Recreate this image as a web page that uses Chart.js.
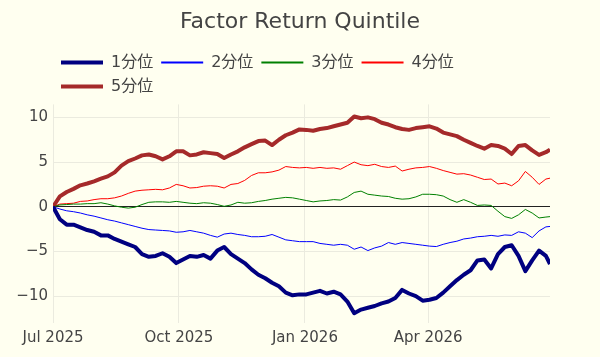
<html>
<head>
<script src="https://cdn.jsdelivr.net/npm/chart.js@4.4.0/dist/chart.umd.min.js"></script>
<style>
  body { margin: 0; background: #fffff0; }
</style>
</head>
<body>
<canvas id="canvas" width="600" height="357"></canvas>
<script>
// day offsets from 2025-07-01
var days = [0,5,10,15,20,25,30,35,40,45,50,55,60,65,70,75,80,85,90,
  95,100,105,110,115,120,125,130,135,140,145,150,155,160,165,170,175,180,
  185,190,195,200,205,210,215,220,225,230,235,240,245,250,255,260,265,270,
  275,280,285,290,295,300,305,310,315,320,325,330,335,340,345,350,355,360,363];

var q1 = [0,-1.4,-2.0,-2.0,-2.3,-2.6,-2.8,-3.2,-3.2,-3.6,-3.9,-4.2,-4.5,-5.3,-5.6,-5.5,-5.2,-5.6,-6.3,
  -5.9,-5.5,-5.6,-5.4,-5.8,-4.9,-4.5,-5.3,-5.8,-6.3,-7.0,-7.6,-8.0,-8.5,-8.9,-9.6,-9.9,-9.8,
  -9.8,-9.6,-9.4,-9.7,-9.5,-9.8,-10.6,-11.9,-11.5,-11.3,-11.1,-10.8,-10.6,-10.2,-9.3,-9.7,-10.0,-10.5,
  -10.4,-10.2,-9.6,-8.9,-8.2,-7.6,-7.1,-6.0,-5.9,-6.9,-5.3,-4.5,-4.3,-5.5,-7.2,-6.0,-4.9,-5.5,-6.4];
var q2 = [0,-0.25,-0.45,-0.55,-0.7,-0.9,-1.05,-1.25,-1.45,-1.6,-1.8,-2.0,-2.2,-2.4,-2.55,-2.6,-2.65,-2.7,-2.85,
  -2.8,-2.65,-2.8,-2.95,-3.2,-3.4,-3.05,-2.95,-3.1,-3.2,-3.35,-3.35,-3.3,-3.1,-3.4,-3.7,-3.8,-3.9,
  -3.9,-3.9,-4.1,-4.2,-4.3,-4.2,-4.3,-4.75,-4.5,-4.9,-4.6,-4.4,-4.0,-4.2,-4.0,-4.1,-4.2,-4.3,
  -4.4,-4.45,-4.2,-4.0,-3.85,-3.6,-3.5,-3.35,-3.3,-3.2,-3.3,-3.15,-3.2,-2.8,-2.95,-3.45,-2.7,-2.25,-2.2];
var q3 = [0,0.2,0.25,0.3,0.3,0.35,0.35,0.45,0.3,0.1,-0.05,-0.15,-0.05,0.25,0.5,0.55,0.55,0.5,0.6,
  0.5,0.4,0.35,0.45,0.4,0.25,0.05,0.2,0.5,0.4,0.45,0.6,0.7,0.85,0.95,1.05,1.0,0.85,
  0.7,0.55,0.65,0.7,0.8,0.75,1.1,1.6,1.75,1.4,1.3,1.2,1.15,0.95,0.85,0.9,1.1,1.4,
  1.4,1.35,1.2,0.8,0.5,0.8,0.5,0.15,0.2,0.15,-0.5,-1.1,-1.3,-0.9,-0.3,-0.7,-1.25,-1.15,-1.1];
var q4 = [0,0.3,0.35,0.4,0.6,0.65,0.8,0.9,0.9,1.0,1.2,1.5,1.75,1.85,1.9,1.95,1.9,2.1,2.5,
  2.35,2.1,2.15,2.3,2.35,2.3,2.1,2.5,2.6,2.95,3.5,3.8,3.8,3.9,4.1,4.5,4.4,4.35,
  4.4,4.3,4.4,4.3,4.35,4.2,4.6,5.0,4.7,4.6,4.75,4.5,4.4,4.55,4.0,4.2,4.35,4.4,
  4.5,4.3,4.05,3.85,3.65,3.7,3.55,3.3,3.05,3.1,2.55,2.65,2.35,2.9,3.95,3.3,2.5,3.1,3.2];
var q5 = [0,1.16,1.65,2.0,2.4,2.6,2.85,3.15,3.4,3.85,4.6,5.1,5.4,5.75,5.85,5.65,5.3,5.65,6.2,
  6.2,5.75,5.85,6.1,6.0,5.9,5.45,5.85,6.2,6.65,7.0,7.35,7.4,6.9,7.5,8.0,8.3,8.65,
  8.6,8.5,8.7,8.8,9.0,9.2,9.4,10.1,9.9,10.0,9.8,9.4,9.2,8.9,8.7,8.6,8.8,8.9,
  9.0,8.75,8.3,8.1,7.9,7.5,7.15,6.8,6.5,6.9,6.8,6.5,5.9,6.8,6.9,6.3,5.8,6.1,6.4];

var seriesNames = ['1分位', '2分位', '3分位', '4分位', '5分位'];
var xTickDays = [0, 92, 184, 274];
var xTickLabels = ['Jul 2025', 'Oct 2025', 'Jan 2026', 'Apr 2026'];
var yTicks = [-10, -5, 0, 5, 10];

var gridColor = '#ebebdf';

function pts(vals) {
  return vals.map(function(v, i) { return {x: days[i], y: v}; });
}

function line(name, vals, color, width) {
  return {label: name, data: pts(vals), borderColor: color, backgroundColor: color,
    borderWidth: width, pointRadius: 0, tension: 0, borderJoinStyle: 'round'};
}

Chart.defaults.font.family = "'DejaVu Sans', 'Noto Sans CJK JP', sans-serif";
Chart.defaults.color = '#444';

// ivory paper
var bgPlugin = {
  id: 'bg',
  beforeDraw: function(chart) {
    var c = chart.ctx;
    c.save();
    c.fillStyle = '#fffff0';
    c.fillRect(0, 0, chart.width, chart.height);
    c.restore();
  }
};

var ctx = document.getElementById('canvas').getContext('2d');
var chart = new Chart(ctx, {
  type: 'line',
  data: {
    datasets: [
      line(seriesNames[0], q1, '#000080', 4),
      line(seriesNames[1], q2, '#0000ff', 1),
      line(seriesNames[2], q3, '#008000', 1),
      line(seriesNames[3], q4, '#ff0000', 1),
      line(seriesNames[4], q5, '#a52a2a', 4)
    ]
  },
  options: {
    responsive: false,
    animation: false,
    devicePixelRatio: 1,
    layout: {padding: 0},
    plugins: {
      title: {
        display: true,
        text: 'Factor Return Quintile',
        font: {size: 22, weight: 'normal'},
        color: '#444',
        padding: {top: 9, bottom: 11}
      },
      legend: {
        position: 'top',
        align: 'start',
        fullSize: false,
        labels: {
          boxWidth: 42,
          boxHeight: 0,
          padding: 8,
          font: {size: 16},
          color: '#444',
          generateLabels: function(chart) {
            var items = Chart.defaults.plugins.legend.labels.generateLabels(chart);
            items.forEach(function(it) {
              if (it.lineWidth < 2) it.lineWidth = 2;
              it.lineJoin = 'bevel';
            });
            return items;
          }
        }
      },
      tooltip: {enabled: false}
    },
    scales: {
      x: {
        type: 'linear',
        min: 0,
        max: 363,
        afterBuildTicks: function(s) {
          s.ticks = xTickDays.map(function(v) { return {value: v}; });
        },
        afterFit: function(s) { s.height = 34; },
        ticks: {
          autoSkip: false,
          maxRotation: 0,
          padding: 6,
          font: {size: 15},
          callback: function(v) { return xTickLabels[xTickDays.indexOf(v)]; }
        },
        grid: {color: gridColor, drawTicks: false},
        border: {display: false}
      },
      y: {
        min: -13,
        max: 11.45,
        afterBuildTicks: function(s) {
          s.ticks = yTicks.map(function(v) { return {value: v}; });
        },
        afterFit: function(s) { s.width = 53; },
        ticks: {
          padding: 5,
          font: {size: 15},
          callback: function(v) { return v < 0 ? '\u2212' + Math.abs(v) : '' + v; }
        },
        grid: {
          color: function(c) { return c.tick && c.tick.value === 0 ? '#222' : gridColor; },
          drawTicks: false
        },
        border: {display: false}
      },
      // empty right margin so the title stays centred on the page
      yRight: {
        position: 'right',
        min: -13,
        max: 11.45,
        afterFit: function(s) { s.width = 50; },
        ticks: {display: false},
        grid: {display: false},
        border: {display: false}
      }
    }
  },
  plugins: [bgPlugin]
});
</script>
</body>
</html>
